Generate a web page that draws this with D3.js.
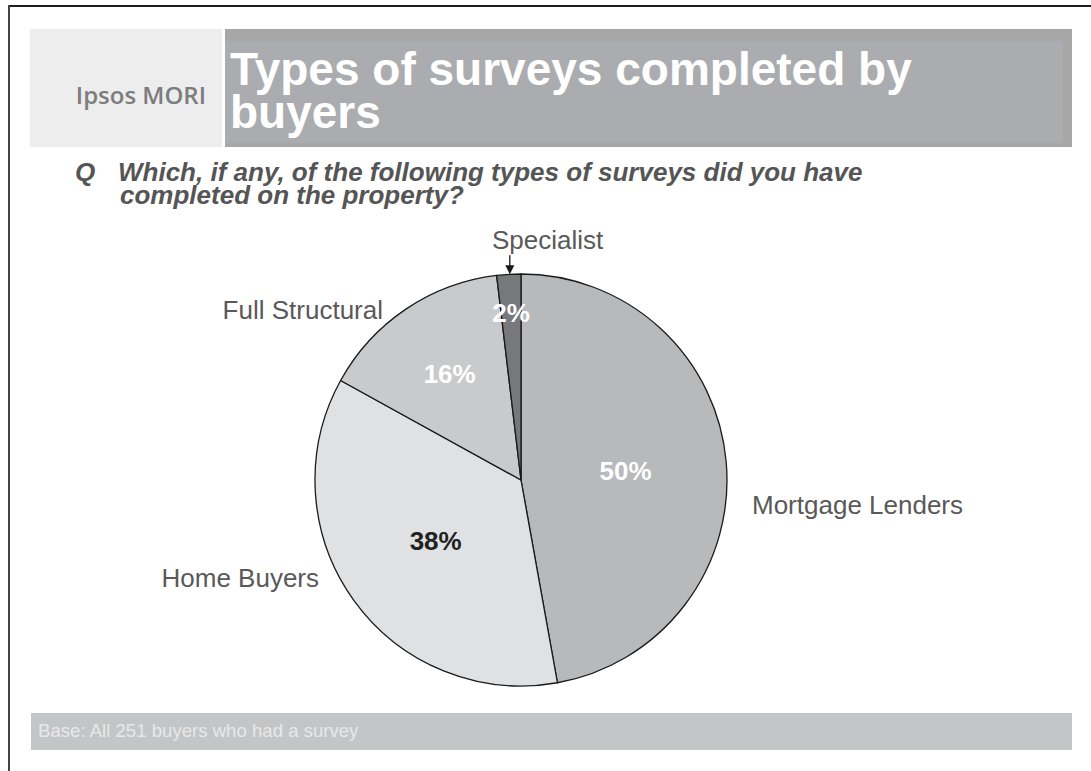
<!DOCTYPE html>
<html>
<head>
<meta charset="utf-8">
<script src="https://cdn.jsdelivr.net/npm/d3@7/dist/d3.min.js"></script>
<style>
  html, body { margin: 0; padding: 0; background: #ffffff; }
  svg { display: block; }
</style>
</head>
<body>
<svg id="chart" width="1091" height="771"></svg>
<script>
// Survey answers (multiple response, so slices are shares of the total mentions)
const categories = ["Mortgage Lenders", "Home Buyers", "Full Structural", "Specialist"];
const values = [50, 38, 16, 2];
const valueLabels = ["50%", "38%", "16%", "2%"];

const titleLines = ["Types of surveys completed by", "buyers"];
const questionLines = ["Which, if any, of the following types of surveys did you have", "completed on the property?"];
const baseNote = "Base: All 251 buyers who had a survey";

// Presentation settings
const sliceColors = ["#b8b9bb", "#e0e1e3", "#c9cacc", "#77787c"];
const valueColors = ["#ffffff", "#222222", "#ffffff", "#ffffff"];
const valueRadius = [0.51, 0.51, 0.62, 0.815];          // fraction of the pie radius
const nameOffsets = [[231, 34], [-202, 107], [-138, -161], [-29, -231]];
const nameAnchors = ["start", "end", "end", "start"];

const svg = d3.select("#chart");
const font = "'Liberation Sans', Arial, Helvetica, sans-serif";

// Frame lines
svg.append("line").attr("x1", 8).attr("x2", 1091).attr("y1", 6).attr("y2", 6)
  .attr("stroke", "#1e1e1e").attr("stroke-width", 2);
svg.append("line").attr("x1", 9).attr("x2", 9).attr("y1", 5).attr("y2", 771)
  .attr("stroke", "#444444").attr("stroke-width", 2);

// Header: logo panel and title panel
svg.append("rect").attr("x", 30).attr("y", 29).attr("width", 192).attr("height", 118).attr("fill", "#ededed");
svg.append("text").attr("x", 206).attr("y", 104).attr("text-anchor", "end")
  .attr("font-family", "'Open Sans', sans-serif").attr("font-weight", 600).attr("font-size", 24)
  .attr("fill", "#7d7d7d").text("Ipsos MORI");

svg.append("rect").attr("x", 225).attr("y", 29).attr("width", 847).attr("height", 118).attr("fill", "#a7a7a7");
svg.append("rect").attr("x", 225).attr("y", 41).attr("width", 838).attr("height", 102).attr("fill", "#abacaf");
svg.append("g").selectAll("text").data(titleLines).join("text")
  .attr("x", 230).attr("y", (d, i) => 85 + i * 43)
  .attr("font-family", font).attr("font-weight", "bold").attr("font-size", 46)
  .attr("fill", "#ffffff").text(d => d);

// Question
const q = svg.append("g").attr("font-family", font).attr("font-weight", "bold")
  .attr("font-style", "italic").attr("font-size", 26).attr("fill", "#555555");
q.append("text").attr("x", 75).attr("y", 181).text("Q");
q.selectAll("text.line").data(questionLines).join("text").attr("class", "line")
  .attr("x", (d, i) => i === 0 ? 118 : 120).attr("y", (d, i) => 181 + i * 23).text(d => d);

// Pie
const cx = 521, cy = 480, R = 206;
const pie = d3.pie().sort(null).value(d => d);
const arcs = pie(values);
const arc = d3.arc().innerRadius(0).outerRadius(R);

const g = svg.append("g").attr("transform", `translate(${cx},${cy})`);
g.selectAll("path").data(arcs).join("path")
  .attr("d", arc)
  .attr("fill", (d, i) => sliceColors[i])
  .attr("stroke", "#1a1a1a").attr("stroke-width", 1.3).attr("stroke-linejoin", "round");

const mid = d => (d.startAngle + d.endAngle) / 2;

g.selectAll("text.val").data(arcs).join("text").attr("class", "val")
  .attr("x", (d, i) => Math.sin(mid(d)) * R * valueRadius[i])
  .attr("y", (d, i) => -Math.cos(mid(d)) * R * valueRadius[i])
  .attr("dy", "0.35em").attr("text-anchor", "middle")
  .attr("font-family", font).attr("font-weight", "bold").attr("font-size", 26)
  .attr("fill", (d, i) => valueColors[i]).text((d, i) => valueLabels[i]);

g.selectAll("text.name").data(arcs).join("text").attr("class", "name")
  .attr("x", (d, i) => nameOffsets[i][0]).attr("y", (d, i) => nameOffsets[i][1])
  .attr("text-anchor", (d, i) => nameAnchors[i])
  .attr("font-family", font).attr("font-size", 26).attr("fill", "#595959")
  .text((d, i) => categories[i]);

// Pointer to the thin Specialist slice
const sp = arcs[3];
const tipX = Math.sin(mid(sp)) * R + 1, tipY = -Math.cos(mid(sp)) * R;
g.append("line").attr("x1", tipX).attr("x2", tipX).attr("y1", tipY - 19).attr("y2", tipY - 8)
  .attr("stroke", "#1a1a1a").attr("stroke-width", 1.3);
g.append("path")
  .attr("d", `M${tipX - 4.5},${tipY - 9} L${tipX + 4.5},${tipY - 9} L${tipX},${tipY} Z`)
  .attr("fill", "#1a1a1a");

// Base note band
svg.append("rect").attr("x", 31).attr("y", 713).attr("width", 1041).attr("height", 37).attr("fill", "#c4c5c7");
svg.append("text").attr("x", 38).attr("y", 737).attr("font-family", font).attr("font-size", 18.6)
  .attr("fill", "#e8e8e8").text(baseNote);
</script>
</body>
</html>
